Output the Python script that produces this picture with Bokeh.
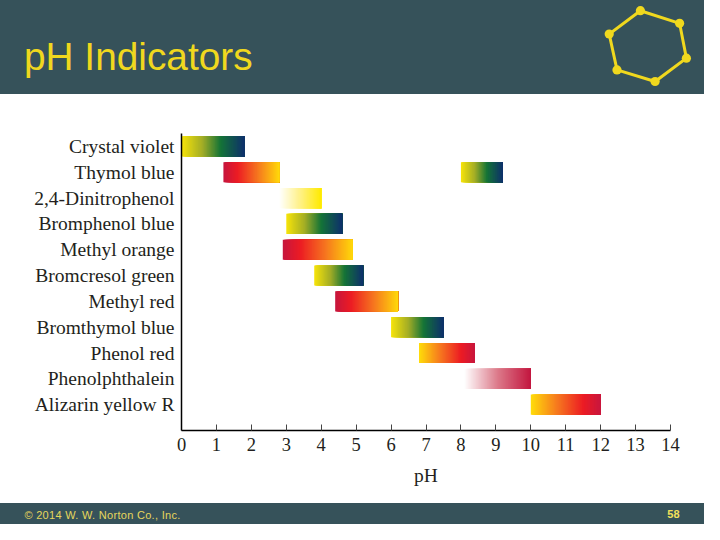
from bokeh.plotting import figure
from bokeh.layouts import column
from bokeh.models import Range1d, FixedTicker, Div
from bokeh.embed import file_html
from bokeh.resources import INLINE

# ---------------- data ----------------
title_text = "pH Indicators"
footer_text = "\u00a9 2014 W. W. Norton Co., Inc."
page_number = "58"

indicators = ["Crystal violet", "Thymol blue", "2,4-Dinitrophenol", "Bromphenol blue",
              "Methyl orange", "Bromcresol green", "Methyl red", "Bromthymol blue",
              "Phenol red", "Phenolphthalein", "Alizarin yellow R"]

# transition segments (one indicator may have two)
seg_row = [0, 1, 1, 2, 3, 4, 5, 6, 7, 8, 9, 10]
seg_low = [0.0, 1.2, 8.0, 2.8, 3.0, 2.9, 3.8, 4.4, 6.0, 6.8, 8.1, 10.0]
seg_high = [1.8, 2.8, 9.2, 4.0, 4.6, 4.9, 5.2, 6.2, 7.5, 8.4, 10.0, 12.0]
seg_scheme = ["ygb", "ryl", "ygb", "wy", "ygb", "ryl", "ygb", "ryl", "ygb", "yor", "wc", "yor"]

ph_ticks = list(range(15))

# colour stops for the gradients (position, colour)
schemes = {
    "ygb": [(0.0, "#f7e40a"), (0.33, "#a3ad26"), (0.62, "#157437"), (1.0, "#0e2f6c")],
    "ryl": [(0.0, "#c6163e"), (0.25, "#ec1c24"), (0.62, "#f6781f"), (1.0, "#ffd90a")],
    "yor": [(0.0, "#ffdd0a"), (0.38, "#f6781f"), (0.75, "#ec1c24"), (1.0, "#c8163e")],
    "wy": [(0.0, "#ffffff"), (0.55, "#fff07a"), (1.0, "#ffea00")],
    "wc": [(0.0, "#ffffff"), (0.5, "#dc7a8a"), (1.0, "#c3163f")],
}

# decorative hexagon logo vertices (slide pixels)
hex_x = [655, 695, 702, 670, 631, 623]
hex_y = [8, 21, 57, 81, 69, 32]

# ---------------- styles ----------------
W, H = 704, 524
SX, SY = W / 720, H / 540
DARK = "#36525a"
YELLOW = "#f0d81e"
SERIF = "Liberation Serif"
SANS = "Liberation Sans"
TXT = "#231f20"

BANNER_H = round(97 * SY)
FOOTER_H = round(22 * SY)
MAIN_H = H - BANNER_H - FOOTER_H


def hex2rgb(h):
    h = h.lstrip("#")
    return tuple(int(h[i:i + 2], 16) for i in (0, 2, 4))


def grad_color(stops, t):
    for (p0, c0), (p1, c1) in zip(stops[:-1], stops[1:]):
        if t <= p1:
            f = (t - p0) / (p1 - p0) if p1 > p0 else 0
            a, b = hex2rgb(c0), hex2rgb(c1)
            rgb = [round(a[i] + (b[i] - a[i]) * f) for i in range(3)]
            return "#%02x%02x%02x" % tuple(rgb)
    return stops[-1][1]


# ---------------- banner (HTML + inline SVG) ----------------
hx = [x * SX for x in hex_x]
hy = [(y + 3) * SY for y in hex_y]
poly = " ".join("%.1f,%.1f" % (a, b) for a, b in zip(hx, hy))
dots = "".join('<circle cx="%.1f" cy="%.1f" r="4.6" fill="%s"/>' % (a, b, YELLOW) for a, b in zip(hx, hy))
banner_html = (
    '<div style="width:%dpx;height:%dpx;background:%s;margin:0;padding:0;overflow:hidden;">'
    '<svg width="%d" height="%d" xmlns="http://www.w3.org/2000/svg">'
    '<text x="%.1f" y="%.1f" font-family="%s" font-size="%.1fpx" fill="%s">%s</text>'
    '<polygon points="%s" fill="none" stroke="%s" stroke-width="3"/>%s'
    '</svg></div>'
) % (W, BANNER_H, DARK, W, BANNER_H, 24.5 * SX, 72 * SY, SANS, 40 * SY, YELLOW, title_text,
     poly, YELLOW, dots)
banner = Div(text=banner_html, width=W, height=BANNER_H, margin=0)

# ---------------- main chart ----------------
left_px, right_px = round(185 * SX), round(685 * SX)
top_px, bottom_px = round(137 * SY) - BANNER_H, round(443 * SY) - BANNER_H
p = figure(width=W, height=MAIN_H, x_range=Range1d(0, 14), y_range=Range1d(11, -0.5),
           min_border_left=left_px, min_border_right=W - right_px,
           min_border_top=top_px, min_border_bottom=MAIN_H - bottom_px,
           toolbar_location=None, output_backend="svg", outline_line_color=None,
           background_fill_color="white", border_fill_color="white", margin=0)
p.grid.visible = False

n = 60
bar_h = 0.78
for r, lo, hi, sc in zip(seg_row, seg_low, seg_high, seg_scheme):
    stops = schemes[sc]
    lefts = [lo + (hi - lo) * k / n for k in range(n)]
    cols = [grad_color(stops, (k + 0.5) / n) for k in range(n)]
    p.quad(left=lefts, right=[hi] * n, top=[r - bar_h / 2] * n, bottom=[r + bar_h / 2] * n,
           fill_color=cols, line_color=None)

xa = p.xaxis[0]
xa.ticker = FixedTicker(ticks=ph_ticks)
xa.axis_label = "pH"
xa.axis_line_color = "black"
xa.axis_line_width = 1.5
xa.major_tick_in = 6
xa.major_tick_out = 0
xa.major_tick_line_color = "#444444"
xa.minor_tick_line_color = None
xa.major_label_standoff = 7
xa.major_label_text_font = SERIF
xa.major_label_text_font_size = "18.5px"
xa.major_label_text_color = TXT
xa.axis_label_text_font = SERIF
xa.axis_label_text_font_size = "19.5px"
xa.axis_label_text_font_style = "normal"
xa.axis_label_text_color = TXT
xa.axis_label_standoff = 11

ya = p.yaxis[0]
ya.ticker = FixedTicker(ticks=list(range(len(indicators))))
ya.major_label_overrides = {i: name for i, name in enumerate(indicators)}
ya.axis_line_color = "black"
ya.axis_line_width = 1.5
ya.major_tick_in = 0
ya.major_tick_out = 0
ya.minor_tick_line_color = None
ya.major_label_standoff = 7
ya.major_label_text_font = SERIF
ya.major_label_text_font_size = "19.5px"
ya.major_label_text_color = TXT

# ---------------- footer ----------------
footer_html = (
    '<div style="width:%dpx;height:%dpx;background:%s;margin:0;padding:0;overflow:hidden;">'
    '<svg width="%d" height="%d" xmlns="http://www.w3.org/2000/svg">'
    '<text x="%.1f" y="%.1f" font-family="%s" font-size="11px" fill="#e6d65c" letter-spacing="0.3">%s</text>'
    '<text x="%.1f" y="%.1f" font-family="%s" font-size="11px" font-weight="bold" fill="#f2e05a" text-anchor="end">%s</text>'
    '</svg></div>'
) % (W, FOOTER_H, DARK, W, FOOTER_H, 25 * SX, 535 * SY - round(518 * SY), SANS, footer_text,
     695 * SX, 534 * SY - round(518 * SY), SANS, page_number)
footer = Div(text=footer_html, width=W, height=FOOTER_H, margin=0)

layout = column(banner, p, footer, spacing=0)
open("out.html", "w").write(file_html(layout, INLINE))
